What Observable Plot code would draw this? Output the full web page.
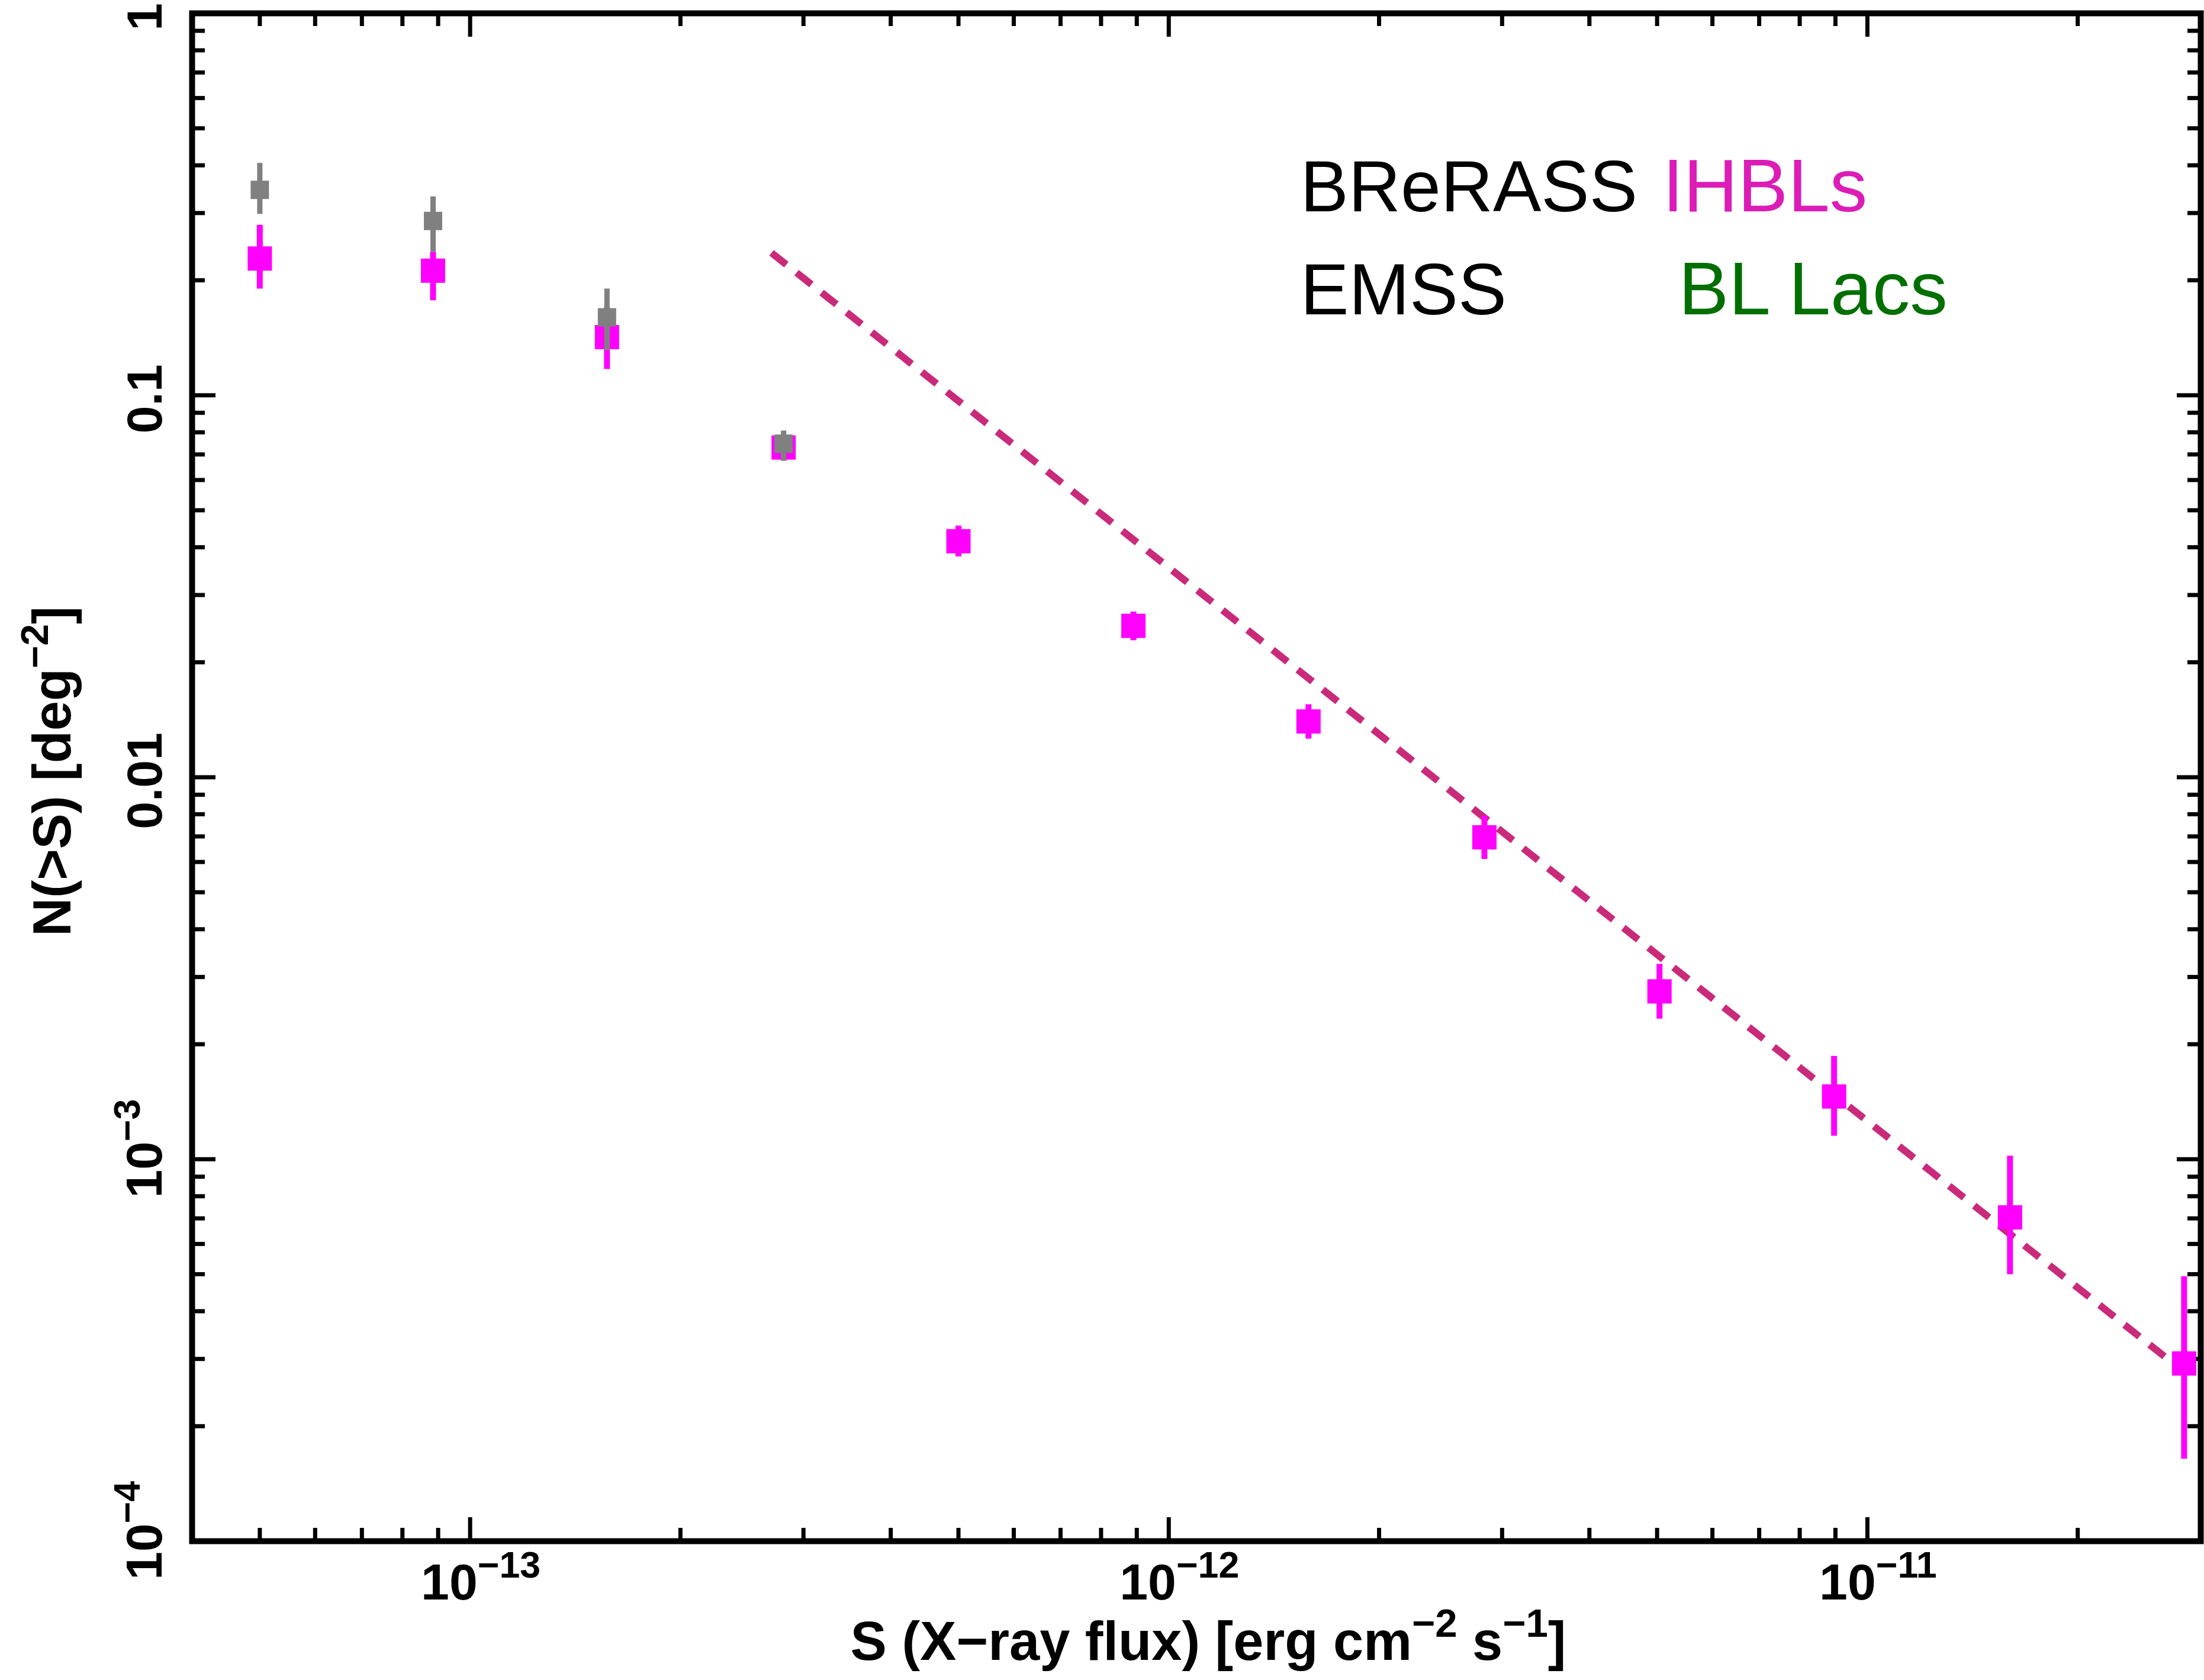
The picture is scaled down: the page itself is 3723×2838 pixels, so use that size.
<!DOCTYPE html>
<html>
<head>
<meta charset="utf-8">
<script src="https://cdn.jsdelivr.net/npm/d3@7"></script>
<script src="https://cdn.jsdelivr.net/npm/@observablehq/plot@0.6"></script>
<style>
  html, body { margin: 0; padding: 0; background: #ffffff; }
  #chart svg { display: block; }
</style>
</head>
<body>
<div id="chart"></div>
<script>
// ---------------- data ----------------
// BReRASS IHBLs (magenta)
const ihblFlux = [5.0e-14, 8.85e-14, 1.57e-13, 2.81e-13, 5.0e-13, 8.9e-13, 1.585e-12, 2.83e-12, 5.04e-12, 8.96e-12, 1.60e-11, 2.84e-11];
const ihblN    = [0.228, 0.212, 0.142, 0.0730, 0.0415, 0.0249, 0.0140, 0.00696, 0.00275, 0.00146, 0.000704, 0.000292];
const ihblLo   = [0.190, 0.177, 0.117, 0.0673, 0.0378, 0.0228, 0.0126, 0.00610, 0.00233, 0.00115, 0.000499, 0.000164];
const ihblHi   = [0.279, 0.237, 0.170, 0.0760, 0.0455, 0.0271, 0.0155, 0.00792, 0.00324, 0.00186, 0.00102, 0.000493];

// EMSS BL Lacs (grey)
const emssFlux = [5.0e-14, 8.85e-14, 1.57e-13, 2.81e-13];
const emssN    = [0.345, 0.286, 0.160, 0.0747];
const emssLo   = [0.298, 0.237, 0.131, 0.0673];
const emssHi   = [0.405, 0.331, 0.190, 0.0807];

// dashed power-law line (end points)
const fitFlux = [2.7e-13, 2.8e-11];
const fitN    = [0.236, 0.000283];

// axes
const xDomain = [4e-14, 3e-11];
const yDomain = [1e-4, 1];
const xTickValues = [1e-13, 1e-12, 1e-11];
const xTickLabels = ["10^{\u221213}", "10^{\u221212}", "10^{\u221211}"];
const yTickValues = [1, 0.1, 0.01, 1e-3, 1e-4];
const yTickLabels = ["1", "0.1", "0.01", "10^{\u22123}", "10^{\u22124}"];
const xTitle = "S (X\u2212ray flux) [erg cm^{\u22122} s^{\u22121}]";
const yTitle = "N(>S) [deg^{\u22122}]";

// legend
const legendRow1 = ["BReRASS", "IHBLs"];
const legendRow2 = ["EMSS", "BL Lacs"];

// ---------------- build tables ----------------
const ihbl = ihblFlux.map((x, i) => ({x, n: ihblN[i], lo: ihblLo[i], hi: ihblHi[i]}));
const emss = emssFlux.map((x, i) => ({x, n: emssN[i], lo: emssLo[i], hi: emssHi[i]}));
const fit = fitFlux.map((x, i) => ({x, n: fitN[i]}));
const yLabelRows = yTickValues.map((d, i) => ({d, t: yTickLabels[i]}));

// ---------------- layout ----------------
const W = 3723, H = 2838;
const mL = 324, mR = 6, mT = 22, mB = 235;
const plotW = W - mL - mR, plotH = H - mT - mB;
const majorLen = 40, minorLen = 22, tickW = 7;

const isMajor = d => Math.abs(Math.log10(d) - Math.round(Math.log10(d))) < 1e-6;
const inside = (d, dom) => d > dom[0] * 1.001 && d < dom[1] * 0.999;
const xMinor = d3.scaleLog().domain(xDomain).ticks().filter(d => inside(d, xDomain) && !isMajor(d));
const yMinor = d3.scaleLog().domain(yDomain).ticks().filter(d => inside(d, yDomain) && !isMajor(d));
const xMajor = xTickValues.filter(d => inside(d, xDomain));
const yMajor = yTickValues.filter(d => inside(d, yDomain));

const axisFont = "Liberation Sans, Arial, Helvetica, sans-serif";
const legendFont = "Liberation Sans, Helvetica, Arial, sans-serif";

const magenta = "#FF00FF", grey = "#808080", dashCol = "#C92A7A";

const plot = Plot.plot({
  width: W,
  height: H,
  marginLeft: mL, marginRight: mR, marginTop: mT, marginBottom: mB,
  style: {background: "#ffffff", overflow: "visible"},
  x: {type: "log", domain: xDomain, axis: null},
  y: {type: "log", domain: yDomain, axis: null},
  marks: [
    // ticks (inward, all four sides)
    Plot.ruleX(xMajor, {x: d => d, insetTop: plotH - majorLen, stroke: "black", strokeWidth: tickW}),
    Plot.ruleX(xMajor, {x: d => d, insetBottom: plotH - majorLen, stroke: "black", strokeWidth: tickW}),
    Plot.ruleX(xMinor, {x: d => d, insetTop: plotH - minorLen, stroke: "black", strokeWidth: tickW}),
    Plot.ruleX(xMinor, {x: d => d, insetBottom: plotH - minorLen, stroke: "black", strokeWidth: tickW}),
    Plot.ruleY(yMajor, {y: d => d, insetRight: plotW - majorLen, stroke: "black", strokeWidth: tickW}),
    Plot.ruleY(yMajor, {y: d => d, insetLeft: plotW - majorLen, stroke: "black", strokeWidth: tickW}),
    Plot.ruleY(yMinor, {y: d => d, insetRight: plotW - minorLen, stroke: "black", strokeWidth: tickW}),
    Plot.ruleY(yMinor, {y: d => d, insetLeft: plotW - minorLen, stroke: "black", strokeWidth: tickW}),

    // dashed power law
    Plot.line(fit, {x: "x", y: "n", stroke: dashCol, strokeWidth: 12, strokeDasharray: "32,22", strokeLinecap: "butt"}),

    // IHBLs
    Plot.ruleX(ihbl, {x: "x", y1: "lo", y2: "hi", stroke: magenta, strokeWidth: 10}),
    Plot.dot(ihbl, {x: "x", y: "n", symbol: "square", r: 41 / Math.sqrt(Math.PI), fill: magenta, stroke: null}),

    // EMSS
    Plot.ruleX(emss, {x: "x", y1: "lo", y2: "hi", stroke: grey, strokeWidth: 9}),
    Plot.dot(emss, {x: "x", y: "n", symbol: "square", r: 31 / Math.sqrt(Math.PI), fill: grey, stroke: null}),

    // frame
    Plot.frame({stroke: "black", strokeWidth: 10}),

    // x tick labels
    Plot.text(xTickValues, {x: d => d, text: (d, i) => xTickLabels[i], frameAnchor: "bottom", lineAnchor: "bottom",
      textAnchor: "middle", dy: 98, dx: 18, fontSize: 86, fontWeight: "bold", fontFamily: axisFont, fill: "black"}),
    // y tick labels (plain)
    Plot.text(yLabelRows.filter(o => !o.t.includes("^")),
      {y: "d", text: "t", frameAnchor: "left", textAnchor: "middle", rotate: -90, lineAnchor: "bottom",
       dx: -52, dy: 6, fontSize: 84, fontWeight: "bold", fontFamily: axisFont, fill: "black"}),
    // y tick labels (powers of ten)
    Plot.text(yLabelRows.filter(o => o.t.includes("^")),
      {y: "d", text: "t", frameAnchor: "left", textAnchor: "middle", rotate: -90, lineAnchor: "bottom",
       dx: -52, dy: -18, fontSize: 86, fontWeight: "bold", fontFamily: axisFont, fill: "black"}),

    // axis titles
    Plot.text([xTitle], {text: d => d, frameAnchor: "bottom", textAnchor: "middle", lineAnchor: "bottom", dy: 200, dx: 20,
      fontSize: 92, fontWeight: "bold", fontFamily: axisFont, fill: "black"}),
    Plot.text([yTitle], {text: d => d, frameAnchor: "left", textAnchor: "middle", rotate: -90, lineAnchor: "bottom",
      dx: -206, dy: -10, fontSize: 90, fontWeight: "bold", fontFamily: axisFont, fill: "black"}),

    // legend
    Plot.text([legendRow1[0]], {text: d => d, frameAnchor: "top-left", textAnchor: "start", lineAnchor: "bottom",
      dx: 1872, dy: 334, fontSize: 122, fontFamily: legendFont, fill: "black"}),
    Plot.text([legendRow1[1]], {text: d => d, frameAnchor: "top-left", textAnchor: "start", lineAnchor: "bottom",
      dx: 2484, dy: 334, fontSize: 127, fontFamily: legendFont, fill: "#DC1CB6"}),
    Plot.text([legendRow2[0]], {text: d => d, frameAnchor: "top-left", textAnchor: "start", lineAnchor: "bottom",
      dx: 1872, dy: 508, fontSize: 123, fontFamily: legendFont, fill: "black"}),
    Plot.text([legendRow2[1]], {text: d => d, frameAnchor: "top-left", textAnchor: "start", lineAnchor: "bottom",
      dx: 2511, dy: 508, fontSize: 127, fontFamily: legendFont, fill: "#006F00"})
  ]
});

// turn "^{...}" into real superscript tspans
function applySuperscripts(svg) {
  const NS = "http://www.w3.org/2000/svg";
  svg.querySelectorAll("text").forEach(t => {
    const s = t.textContent;
    if (!s.includes("^{")) return;
    const parts = s.split(/\^\{([^}]*)\}/);
    t.textContent = "";
    let raised = false;
    parts.forEach((p, i) => {
      if (p === "") return;
      const ts = document.createElementNS(NS, "tspan");
      ts.textContent = p;
      if (i % 2 === 1) {
        ts.setAttribute("font-size", "0.73em");
        ts.setAttribute("dy", "-0.575em");
        raised = true;
      } else if (raised) {
        ts.setAttribute("dy", "0.42em");
        raised = false;
      }
      t.appendChild(ts);
    });
  });
}
applySuperscripts(plot);
document.getElementById("chart").appendChild(plot);
</script>
</body>
</html>
